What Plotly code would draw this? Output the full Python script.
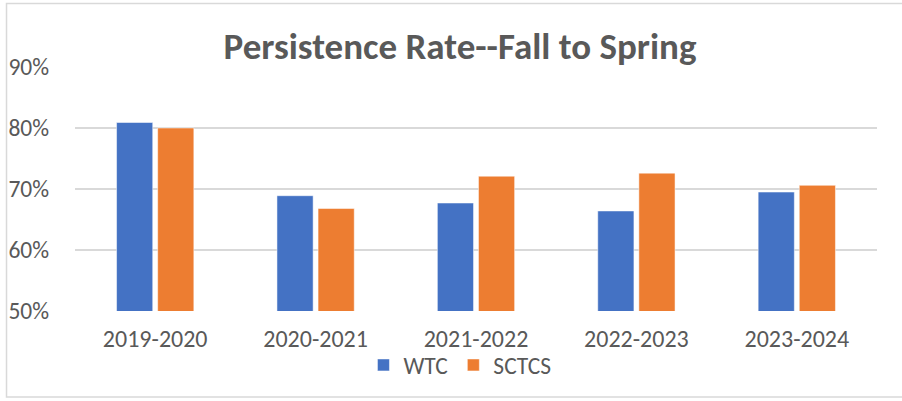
import plotly.graph_objects as go

categories = ["2019-2020", "2020-2021", "2021-2022", "2022-2023", "2023-2024"]
wtc = [0.809, 0.689, 0.677, 0.664, 0.695]
sctcs = [0.800, 0.668, 0.721, 0.726, 0.706]
y_ticks = [0.5, 0.6, 0.7, 0.8, 0.9]
y_labels = ["50%", "60%", "70%", "80%", "90%"]

FONT = "Carlito, Calibri, Lato, sans-serif"
GREY = "#595959"

fig = go.Figure()
fig.add_trace(go.Bar(x=categories, y=wtc, name="WTC",
                     marker=dict(color="#4472C4", line=dict(color="#FFFFFF", width=0.5))))
fig.add_trace(go.Bar(x=categories, y=sctcs, name="SCTCS",
                     marker=dict(color="#ED7D31", line=dict(color="#FFFFFF", width=0.5))))

fig.update_layout(
    width=902, height=401,
    margin=dict(l=75, r=25, t=67, b=90, autoexpand=False),
    paper_bgcolor="white", plot_bgcolor="white",
    barmode="group", bargap=0.4875, bargroupgap=0.12,
    font=dict(family=FONT, color=GREY, size=23),
    title=dict(text="<b>Persistence Rate--Fall to Spring</b>", x=0.51, xanchor="center",
               y=0.885, yanchor="middle",
               font=dict(family=FONT, size=37, color=GREY)),
    showlegend=True,
    legend=dict(orientation="h", x=0.48, xanchor="center", y=-0.222, yanchor="middle",
                bgcolor="rgba(0,0,0,0)", tracegroupgap=0,
                font=dict(size=23.5, color=GREY), itemwidth=30, traceorder="normal"),
    xaxis=dict(showgrid=False, showline=False, ticks="", ticklabelstandoff=11,
               tickfont=dict(size=24, color=GREY)),
    yaxis=dict(range=[0.5, 0.9], tickvals=y_ticks, ticktext=y_labels, showgrid=True,
               gridcolor="#D9D9D9", gridwidth=1.5, zeroline=False, showline=False,
               ticks="", ticklabelstandoff=25, tickfont=dict(size=23.5, color=GREY)),
)

fig.add_shape(type="rect", xref="paper", yref="paper",
              x0=-0.0854, x1=1.05, y0=-0.352, y1=1.26,
              line=dict(color="#D9D9D9", width=1.5), fillcolor="rgba(0,0,0,0)", layer="below")

fig.write_html("out.html", config={"displayModeBar": False},
               post_script="document.body.style.margin='0';document.body.style.overflow='hidden';")
